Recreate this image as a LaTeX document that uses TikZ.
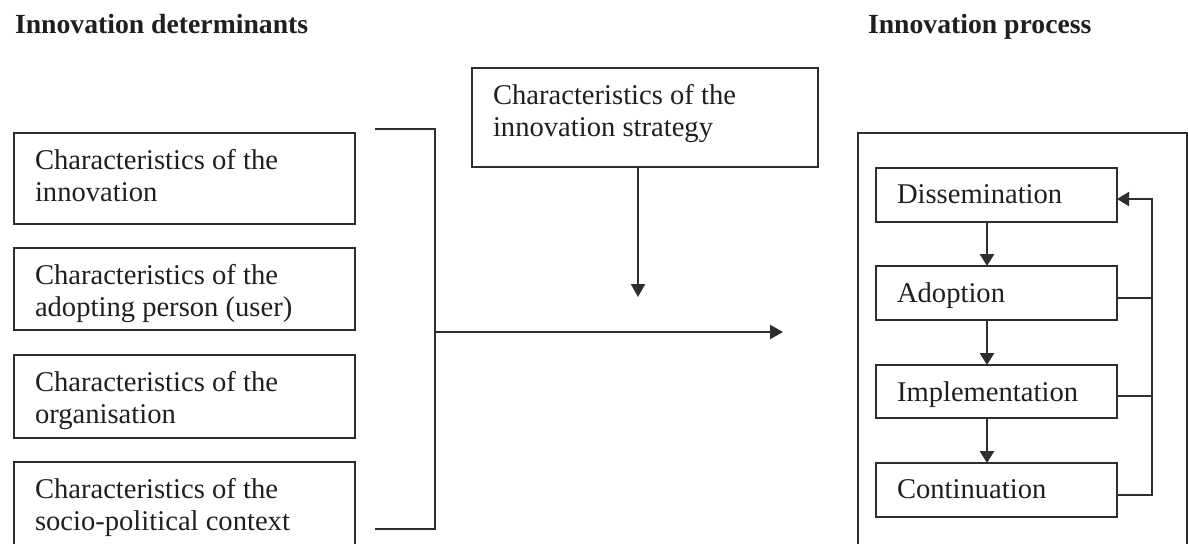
\documentclass[tikz,border=0pt]{standalone}
\usepackage{fontspec}
\setmainfont{Liberation Serif}
\usetikzlibrary{arrows.meta}
\newcommand\btext[3]{\parbox[t][#1][t]{#2}{\raggedright #3}}
\begin{document}
\begin{tikzpicture}[x=0.5pt,y=-0.5pt,
  every node/.style={outer sep=0pt, text=black!88},
  ink/.style={draw=black!82, line width=0.9pt},
  boxnode/.style={ink, anchor=north west, inner xsep=10.5pt, inner ysep=8.2pt,
    font=\fontsize{14.3}{16}\selectfont},
  frame/.style={ink, anchor=north west, inner sep=0pt},
  title/.style={anchor=base west, inner sep=0pt, font=\fontsize{13.85}{16}\selectfont\bfseries},
  conn/.style={draw=black!82, line width=0.9pt},
  arr/.style={conn, line width=1.1pt, -{Triangle[width=7pt,length=6.5pt]}},
  darr/.style={conn, line width=1.4pt, -{Triangle[width=7pt,length=6pt]}}
]
\useasboundingbox (0,0) rectangle (1188,543);
\clip (0,0) rectangle (1188,543);

% titles
\node[title] (t1) at (15,33) {Innovation determinants};
\node[title] (t2) at (868,33) {Innovation process};

% determinant boxes
\node[boxnode] (d1) at (14,133) {\btext{29.1pt}{149.5pt}{Characteristics of the\\innovation}};
\node[boxnode] (d2) at (14,248) {\btext{24.6pt}{149.5pt}{Characteristics of the\\adopting person (user)}};
\node[boxnode] (d3) at (14,355) {\btext{25.1pt}{149.5pt}{Characteristics of the\\organisation}};
\node[boxnode] (d4) at (14,462) {\btext{27.6pt}{149.5pt}{Characteristics of the\\socio-political context}};

% strategy box
\node[boxnode] (st) at (472,68) {\btext{33.1pt}{152pt}{Characteristics of the\\innovation strategy}};

% bracket and main arrow
\coordinate (bt1) at (375,129);
\coordinate (bt2) at (435,129);
\coordinate (bb2) at (435,529);
\coordinate (bb1) at (375,529);
\draw[conn] (bt1) -- (bt2) -- (bb2) -- (bb1);
\coordinate (mj) at (435,332);
\coordinate (me) at (783,332);
\draw[arr] (mj) -- (me);

% strategy arrow
\coordinate (sa) at (638,297);
\draw[arr] (st.south -| sa) -- (sa);

% process frame
\node[frame, minimum width=164.5pt, minimum height=215pt] (pf) at (858,133) {};

% process boxes
\node[boxnode] (dis) at (876,168) {\btext{10.6pt}{99.5pt}{Dissemination}};
\node[boxnode] (ado) at (876,266) {\btext{10.6pt}{99.5pt}{Adoption}};
\node[boxnode] (imp) at (876,365) {\btext{10.1pt}{99.5pt}{Implementation}};
\node[boxnode] (con) at (876,463) {\btext{10.6pt}{99.5pt}{Continuation}};

% downward arrows
\coordinate (ax) at (987,0);
\draw[darr] (dis.south -| ax) -- (ado.north -| ax);
\draw[darr] (ado.south -| ax) -- (imp.north -| ax);
\draw[darr] (imp.south -| ax) -- (con.north -| ax);

% feedback loop
\coordinate (fb) at (1152,0);
\coordinate (de) at ([yshift=-2pt]dis.east);
\coordinate (ae) at ([yshift=-2.4pt]ado.east);
\coordinate (ie) at ([yshift=-2.25pt]imp.east);
\coordinate (ce) at ([yshift=-2.5pt]con.east);
\draw[conn] (ae) -- (ae -| fb);
\draw[conn] (ie) -- (ie -| fb);
\draw[conn, -{Triangle[width=7pt,length=6pt]}] (ce) -- (ce -| fb) -- (de -| fb) -- (de);
\end{tikzpicture}
\end{document}
